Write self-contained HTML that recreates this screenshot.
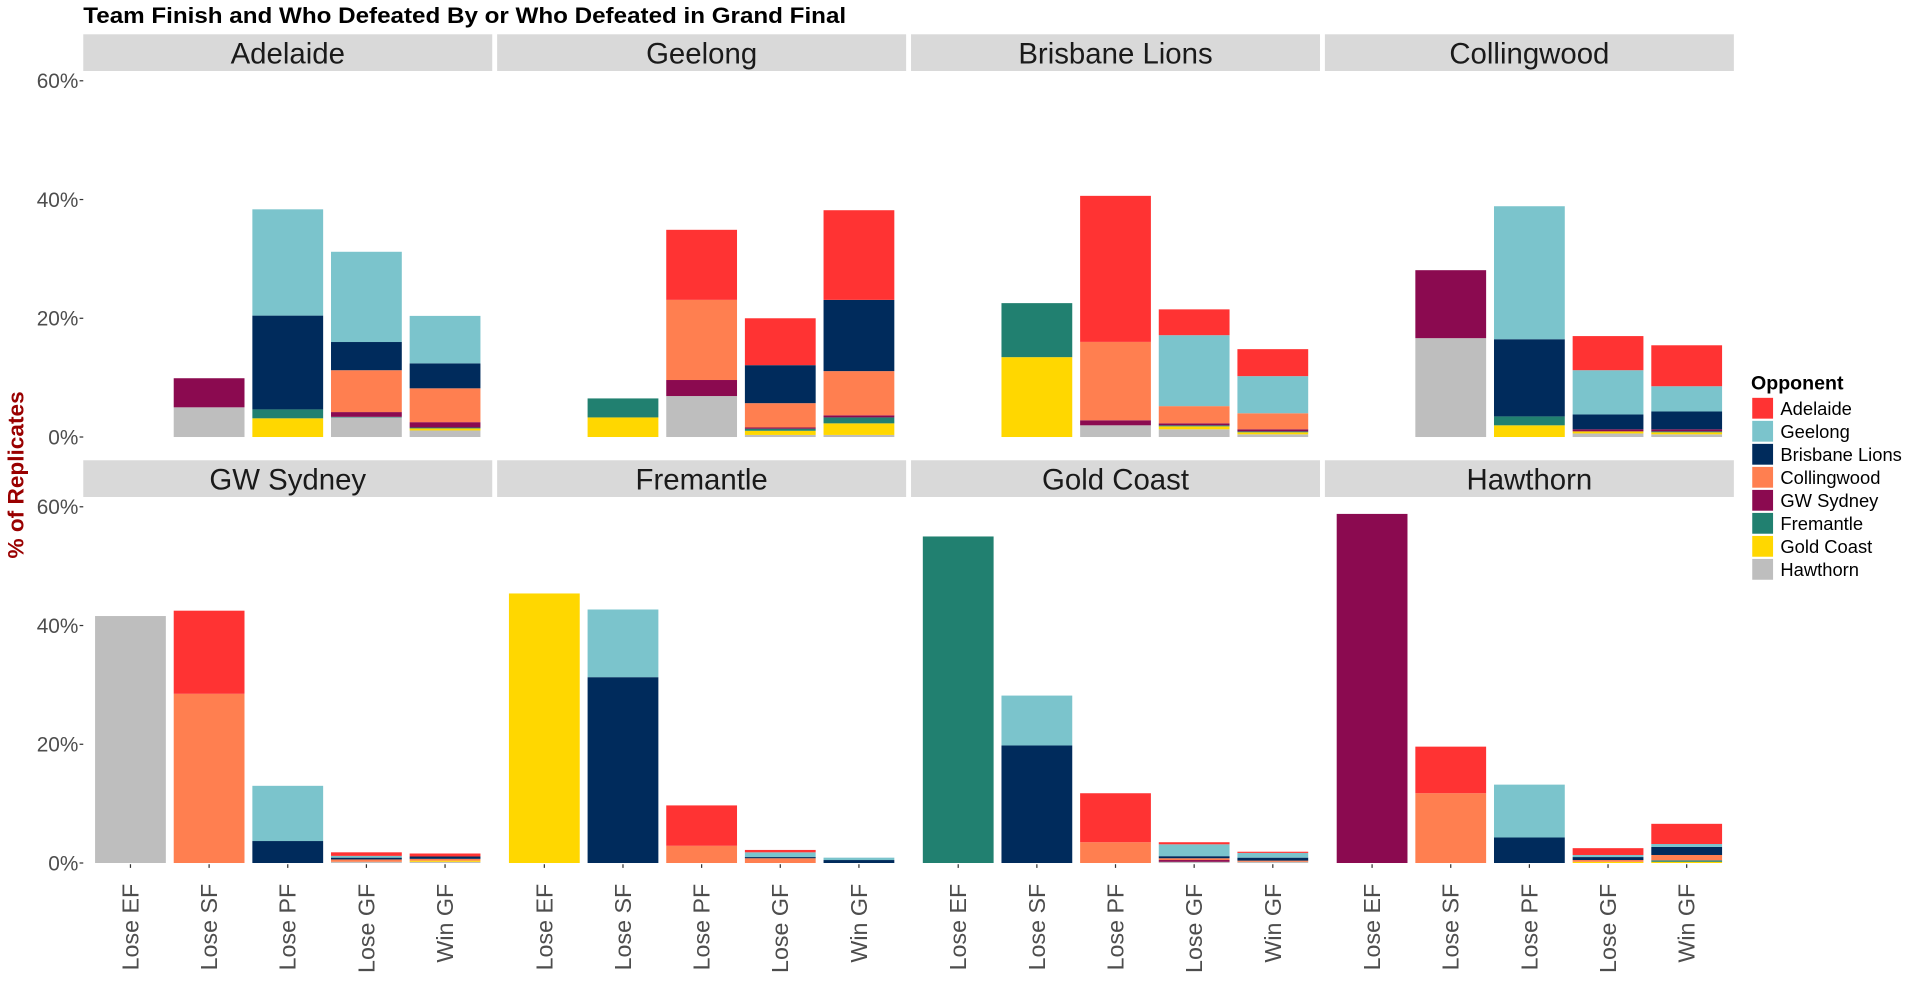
<!DOCTYPE html>
<html><head><meta charset="utf-8"><style>
html,body{margin:0;padding:0;background:#fff;}
svg{display:block;font-family:"Liberation Sans",Arial,sans-serif;}
</style></head><body>
<svg id="chart" width="1920" height="1005" viewBox="0 0 1568 821" preserveAspectRatio="none" xmlns="http://www.w3.org/2000/svg">
<text x="68" y="19" font-size="18" font-weight="bold" fill="#000" textLength="623" lengthAdjust="spacingAndGlyphs">Team Finish and Who Defeated By or Who Defeated in Grand Final</text>
<text transform="translate(19,388) rotate(-90)" text-anchor="middle" font-size="18.5" font-weight="bold" fill="#990000">% of Replicates</text>
<g id="panels"></g>
<g id="legend"></g>
</svg>
<script>
// Opponent order: Adelaide, Geelong, Brisbane Lions, Collingwood, GW Sydney, Fremantle, Gold Coast, Hawthorn
var teams = ["Adelaide","Geelong","Brisbane Lions","Collingwood","GW Sydney","Fremantle","Gold Coast","Hawthorn"];
var categories = ["Lose EF","Lose SF","Lose PF","Lose GF","Win GF"];
var opponents = ["Adelaide","Geelong","Brisbane Lions","Collingwood","GW Sydney","Fremantle","Gold Coast","Hawthorn"];
var oppColors = ["#FF3333","#7BC4CC","#002B5C","#FF7F50","#8B0A50","#218070","#FFD700","#BEBEBE"];
var yTicks = [0,20,40,60];
var yTickLabels = ["0%","20%","40%","60%"];
var adelaideValues = [[0,0,0,0,0,0,0,0],[0,0,0,0,4.9,0,0,5.0],[0,17.9,15.8,0,0,1.5,3.15,0],[0,15.2,4.75,7.05,0.8,0.1,0,3.3],[0,8.0,4.2,5.7,0.9,0.15,0.35,1.1]];
var geelongValues = [[0,0,0,0,0,0,0,0],[0,0,0,0,0,3.2,3.3,0],[11.8,0,0,13.5,2.7,0,0,6.9],[7.9,0,6.4,4.1,0.2,0.35,0.7,0.35],[15.1,0,12.0,7.45,0.35,1.0,1.95,0.35]];
var brisbaneValues = [[0,0,0,0,0,0,0,0],[0,0,0,0,0,9.1,13.45,0],[24.6,0,0,13.2,0.85,0,0,1.97],[4.35,11.95,0,2.9,0.33,0.17,0.5,1.3],[4.55,6.25,0,2.7,0.35,0.15,0.35,0.45]];
var collingwoodValues = [[0,0,0,0,0,0,0,0],[0,0,0,0,11.45,0,0,16.65],[0,22.4,13.0,0,0,1.5,1.97,0],[5.75,7.45,2.5,0,0.35,0,0.35,0.6],[6.9,4.25,3.0,0,0.35,0.15,0.35,0.45]];
var gwsValues = [[0,0,0,0,0,0,0,41.6],[14.0,0,0,28.5,0,0,0,0],[0,9.3,3.7,0,0,0,0,0],[0.6,0.3,0.3,0.4,0,0,0,0.2],[0.5,0,0.4,0.3,0,0,0.2,0.2]];
var fremantleValues = [[0,0,0,0,0,0,45.4,0],[0,11.4,31.3,0,0,0,0,0],[6.8,0,0,2.9,0,0,0,0],[0.4,0.8,0.2,0.8,0,0,0,0],[0,0.4,0.5,0,0,0,0,0]];
var goldCoastValues = [[0,0,0,0,0,55.0,0,0],[0,8.4,19.8,0,0,0,0,0],[8.25,0,0,3.5,0,0,0,0],[0.35,2.0,0.35,0.3,0.3,0,0,0.2],[0.2,0.8,0.5,0.2,0,0,0,0.2]];
var hawthornValues = [[0,0,0,0,58.8,0,0,0],[7.85,0,0,11.75,0,0,0,0],[0,8.9,4.3,0,0,0,0,0],[1.15,0.35,0.5,0.3,0,0,0.2,0],[3.4,0.5,1.35,0.9,0,0.25,0.2,0]];
var panelValues = [adelaideValues,geelongValues,brisbaneValues,collingwoodValues,gwsValues,fremantleValues,goldCoastValues,hawthornValues];

var NS = "http://www.w3.org/2000/svg";
var panelLefts = [68,406,744,1082];
var panelW = 334;
var band = panelW/5.2;
var barW = band*0.9;
function mk(tag, attrs, parent){var e=document.createElementNS(NS,tag);for(var k in attrs)e.setAttribute(k,attrs[k]);parent.appendChild(e);return e;}
function xCenter(left,i){return left+(i+0.6)*band;}
function yScale(row,v){return 357+row*348 - v*(291/60);}
var root = document.getElementById("panels");
teams.forEach(function(team,t){
  var row = Math.floor(t/4), col = t%4, left = panelLefts[col];
  var g = mk("g",{},root);
  
  
  var stripTop = 28+row*348;
  var strip = mk("rect",{x:left,y:stripTop,width:panelW,height:30,fill:"#D9D9D9"},g);
  
  
  var st = mk("text",{x:left+panelW/2,y:stripTop+24,"text-anchor":"middle","font-size":"24",fill:"#1a1a1a"},g);
  st.textContent = team;
  
  
  if(col===0){
    yTicks.forEach(function(v,k){
      var y=yScale(row,v);
      var tk=mk("line",{x1:left-3,x2:left,y1:y,y2:y,stroke:"#333","stroke-width":1},g);
      
      
      var tl=mk("text",{x:left-4,y:y+6,"text-anchor":"end","font-size":"17",fill:"#4d4d4d"},g);
      tl.textContent=yTickLabels[k];
      
      
    });
  }
  var vals = panelValues[t];
  categories.forEach(function(cat,i){
    var cx = xCenter(left,i);
    var cum = 0;
    for(var o=opponents.length-1;o>=0;o--){
      var v = vals[i][o];
      if(v<=0) continue;
      var y1 = yScale(row,cum), y2 = yScale(row,cum+v);
      var r = mk("rect",{x:cx-barW/2,y:y2,width:barW,height:y1-y2,fill:oppColors[o]},g);
      
      
      cum += v;
    }
    if(row===1){
      var xt=mk("line",{x1:cx,x2:cx,y1:706,y2:709,stroke:"#333","stroke-width":1},g);
      
      
      var xl=mk("text",{transform:"translate("+(cx+6.5)+",722) rotate(-90)","text-anchor":"end","font-size":"19",fill:"#4d4d4d"},g);
      xl.textContent=cat;
      
      
    }
  });
});
var lg = document.getElementById("legend");
var lt = mk("text",{x:1430,y:318,"font-size":"16","font-weight":"bold",fill:"#000"},lg);
lt.textContent="Opponent";


opponents.forEach(function(name,o){
  var y = 325+o*18.8;
  var k = mk("rect",{x:1431,y:y,width:17,height:17,fill:oppColors[o]},lg);
  
  
  var tx = mk("text",{x:1454,y:y+14,"font-size":"15",fill:"#000"},lg);
  tx.textContent=name;
  
  
});
</script>
</body></html>
